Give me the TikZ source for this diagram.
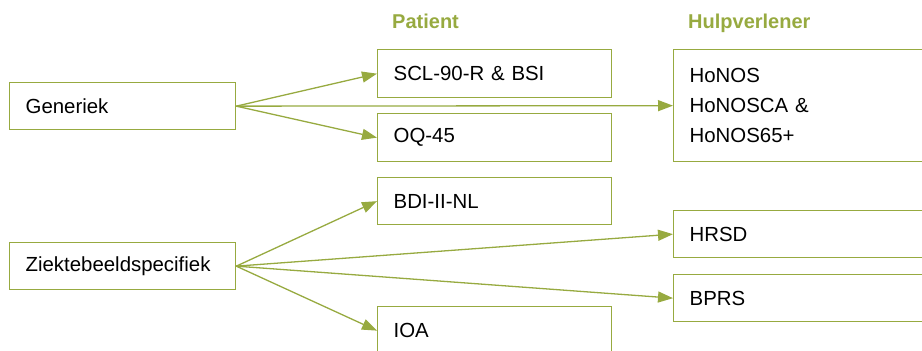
\documentclass[tikz,border=0pt]{standalone}
\usepackage{fontspec}
\setmainfont{Liberation Sans}
\usetikzlibrary{arrows.meta}
\definecolor{olijf}{RGB}{151,170,64}

\begin{document}
\begin{tikzpicture}[x=1pt, y=-1pt,
	vak/.style={draw=olijf, line width=1.3pt, rectangle, anchor=north west, inner xsep=16pt, inner ysep=0pt, align=left, font=\fontsize{20.4}{30}\selectfont},
	kop/.style={anchor=base west, inner sep=0pt, text=olijf, font=\fontsize{20}{24}\selectfont\bfseries},
	pijl/.style={draw=olijf, line width=1.3pt, -{Triangle[length=15pt, width=11pt]}}]
			%%%%% START %%%%%
			
			\useasboundingbox (0, 0) rectangle (922, 351);
			\clip (0, 0) rectangle (922, 351);
			
			\node[kop] (patient) at (392, 28) {Patient};
			\node[kop] (hulp) at (688, 28) {Hulpverlener};
			
			\node[vak, text width=194pt, minimum height=47pt] (gen) at (9, 82) {Generiek};
			\node[vak, text width=194pt, minimum height=47pt] (ziek) at (9, 242) {Ziektebeeldspecifiek};
			
			\node[vak, text width=202pt, minimum height=48pt] (scl) at (377, 49) {SCL-90-R \& BSI};
			\node[vak, text width=202pt, minimum height=48pt] (oq) at (377, 113) {OQ-45};
			\node[vak, text width=202pt, minimum height=47pt] (bdi) at (377, 177) {BDI-II-NL};
			\node[vak, text width=202pt, minimum height=48pt] (ioa) at (377, 306) {IOA};
			
			\node[vak, text width=260pt, minimum height=112pt] (honos) at (673, 49) {HoNOS\\HoNOSCA \&\\HoNOS65+};
			\node[vak, text width=260pt, minimum height=47pt] (hrsd) at (673, 210) {HRSD};
			\node[vak, text width=260pt, minimum height=47pt] (bprs) at (673, 274) {BPRS};
			
			\draw[pijl] (gen.east) -- (scl.west);
			\draw[pijl] (gen.east) -- (oq.west);
			\draw[pijl] (gen.east) -- (honos.west);
			
			\draw[pijl] (ziek.east) -- (bdi.west);
			\draw[pijl] (ziek.east) -- (ioa.west);
			\draw[pijl] (ziek.east) -- (hrsd.west);
			\draw[pijl] (ziek.east) -- (bprs.west);
			
			%%%%% END %%%%%
\end{tikzpicture}
\end{document}
